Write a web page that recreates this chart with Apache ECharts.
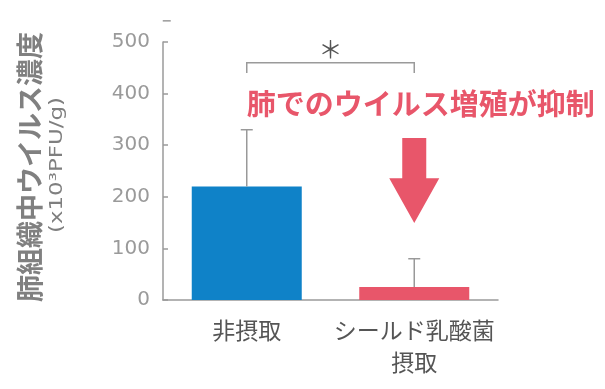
<!DOCTYPE html>
<html>
<head>
<meta charset="utf-8">
<script src="https://cdn.jsdelivr.net/npm/echarts@6/dist/echarts.min.js"></script>
<style>
html,body{margin:0;padding:0;background:#fff;}
#chart{width:605px;height:389px;}
</style>
</head>
<body>
<div id="chart"></div>
<script>
// ---- data ----
const categories = ['非摂取', 'シールド乳酸菌\n摂取'];
const means = [220, 25];
const errorTops = [330, 80];
const barColors = ['#0F82C8', '#E8566A'];
const yTicks = [0, 100, 200, 300, 400, 500];
const yTitle = '肺組織中ウイルス濃度';
const yUnit = '(x10³PFU/g)';
const annotationText = '肺でのウイルス増殖が抑制';
const sigMark = '＊';

const chart = echarts.init(document.getElementById('chart'), null, {renderer: 'canvas'});

const errData = categories.map((c, i) => [i, means[i], errorTops[i]]);

chart.setOption({
  animation: false,
  backgroundColor: '#fff',
  grid: {left: 163, right: 107, top: 42, bottom: 89},
  xAxis: {
    type: 'category',
    data: categories,
    axisLine: {lineStyle: {color: '#9a9a9a', width: 1.5}},
    axisTick: {inside: true, length: 8, lineStyle: {color: '#9a9a9a', width: 1.5}},
    axisLabel: {interval: 0, color: '#555', fontSize: 23, lineHeight: 32, margin: 14,
      fontFamily: '"Noto Sans CJK JP", sans-serif'}
  },
  yAxis: {
    type: 'value',
    min: yTicks[0], max: yTicks[yTicks.length - 1], interval: 100,
    axisLine: {show: true, lineStyle: {color: '#9a9a9a', width: 1.5}},
    axisTick: {show: true, inside: true, length: 5, lineStyle: {color: '#9a9a9a', width: 1.5}},
    splitLine: {show: false},
    axisLabel: {color: '#9a9a9a', fontSize: 20, margin: 13,
      fontFamily: '"DejaVu Sans", sans-serif'}
  },
  series: [
    {
      type: 'bar',
      data: means.map((v, i) => ({value: v, itemStyle: {color: barColors[i]}})),
      barWidth: 110,
      z: 2
    },
    {
      type: 'custom',
      data: errData,
      z: 3,
      renderItem: function (params, api) {
        const base = api.coord([api.value(0), api.value(1)]);
        const top = api.coord([api.value(0), api.value(2)]);
        const st = {stroke: '#999', lineWidth: 1.5};
        return {type: 'group', children: [
          {type: 'line', shape: {x1: base[0], y1: base[1], x2: base[0], y2: top[1]}, style: st},
          {type: 'line', shape: {x1: base[0] - 6, y1: top[1], x2: base[0] + 6, y2: top[1]}, style: st}
        ]};
      }
    }
  ]
});

// ---- annotations positioned through the chart's scales ----
const px = (ci, v) => chart.convertToPixel({gridIndex: 0}, [ci, v]);
const c0 = px(0, 0), c1 = px(1, 0);
const bracketY = px(0, 460)[1], bracketEnd = px(0, 440)[1];
const starY = px(0, 490)[1];
const textY = px(0, 380)[1];
const aTop = px(1, 314)[1], aHead = px(1, 236)[1], aTip = px(1, 149)[1];
const ax = c1[0];
const axisTopY = px(0, 541)[1];
const gray = '#9a9a9a';

chart.setOption({
  graphic: [
    {type: 'line', shape: {x1: c0[0] - 84, y1: axisTopY, x2: c0[0] - 76, y2: axisTopY},
      style: {stroke: gray, lineWidth: 1.5}},
    {type: 'polyline', shape: {points: [[c0[0], bracketEnd], [c0[0], bracketY], [c1[0], bracketY], [c1[0], bracketEnd]]},
      style: {stroke: gray, lineWidth: 1.5, fill: null}},
    {type: 'text', x: (c0[0] + c1[0]) / 2, y: starY + 2,
      style: {text: sigMark, fontSize: 24, fill: '#555', align: 'center', verticalAlign: 'middle',
        fontFamily: '"Noto Sans CJK JP", sans-serif'}},
    {type: 'text', x: c0[0], y: textY,
      style: {text: annotationText, fontSize: 29, fontWeight: 'bold', fill: '#E8566A', align: 'left', verticalAlign: 'middle',
        fontFamily: '"Noto Sans CJK JP", sans-serif'}},
    {type: 'polygon', shape: {points: [
      [ax - 12, aTop], [ax + 12, aTop], [ax + 12, aHead], [ax + 25, aHead],
      [ax, aTip], [ax - 25, aHead], [ax - 12, aHead]]},
      style: {fill: '#E8566A'}},
    {type: 'text', x: 30, y: 167, rotation: Math.PI / 2,
      style: {text: yTitle, fontSize: 27, fontWeight: 'bold', fill: '#808080', align: 'center', verticalAlign: 'middle',
        fontFamily: '"Noto Sans CJK JP", sans-serif'}},
    {type: 'text', x: 58, y: 165, rotation: Math.PI / 2, scaleX: 1.35,
      style: {text: yUnit, fontSize: 17, fill: '#7f7f7f', align: 'center', verticalAlign: 'middle',
        fontFamily: '"DejaVu Sans", sans-serif'}}
  ]
});
</script>
</body>
</html>
